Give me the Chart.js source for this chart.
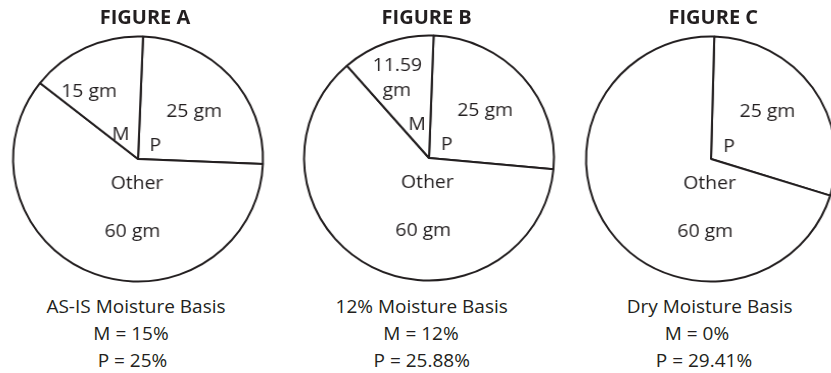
<!DOCTYPE html>
<html>
<head>
<meta charset="utf-8">
<title>Moisture basis pies</title>
<script src="https://cdn.jsdelivr.net/npm/chart.js@4"></script>
<style>
    html, body { margin: 0; padding: 0; background: #fff; }
    body {
        position: relative;
        width: 831px;
        height: 373px;
        overflow: hidden;
        font-family: "Open Sans", sans-serif;
        color: #231f20;
    }
    .pie { position: absolute; width: 260px; height: 260px; transform: scaleX(1.02); }
    .title { position: absolute; width: 200px; text-align: center; font-weight: bold; font-size: 20px; line-height: 27px; }
    .caption { position: absolute; width: 240px; text-align: center; font-size: 19px; line-height: 27px; white-space: nowrap; }
</style>
</head>
<body>
<script>
// Sample composition in grams, one entry per figure
const figureNames = ['FIGURE A', 'FIGURE B', 'FIGURE C'];
const basisNames = ['AS-IS Moisture Basis', '12% Moisture Basis', 'Dry Moisture Basis'];
const sliceNames = ['P', 'Other', 'M'];
const proteinGm = [25, 25, 25];
const otherGm = [60, 60, 60];
const moistureGm = [15, 11.59, 0];

// Layout
const pieCenters = [[138.3, 159.3], [428.5, 158.3], [710.7, 158.6]];
const pieRadius = 122.5;
const startAngles = [2.3, 2.1, 1.5];
const titleCenters = [145, 426.7, 713.3];
const captionCenters = [[136, 131, 132.5], [421.7, 421, 421.7], [709.7, 697, 704]];
const captionTop = 293.4;

// text offsets from the pie centre (x = text centre, y = baseline)
const labelSpots = [
    {
        P: { name: [17, -8.5], value: [[55, -42.5]] },
        Other: { name: [-1, 30], value: [[-5.5, 77.5]] },
        M: { name: [-17, -19.5], value: [[-48, -62]] }
    },
    {
        P: { name: [17.4, -7.6], value: [[55, -41.6]] },
        Other: { name: [-1.6, 30], value: [[-5.6, 78.4]] },
        M: { name: [-11.6, -28.3], value: [[-31, -86.6], [-31.5, -61.6]] }
    },
    {
        P: { name: [17.6, -7.5], value: [[55.3, -42]] },
        Other: { name: [-1.4, 29.5], value: [[-5.7, 78]] }
    }
];

const ink = '#231f20';

// writes slice names and gram values inside the pie
const sliceText = {
    id: 'sliceText',
    afterDatasetsDraw(chart, args, opts) {
        const arc = chart.getDatasetMeta(0).data[0];
        if (!arc) return;
        const ctx = chart.ctx;
        ctx.save();
        ctx.fillStyle = ink;
        ctx.font = '19px "Open Sans"';
        ctx.textAlign = 'center';
        ctx.textBaseline = 'alphabetic';
        chart.data.labels.forEach((name, i) => {
            const spot = opts.spots[name];
            if (!spot) return;
            const text = chart.data.datasets[0].data[i] + ' gm';
            const lines = spot.value.length > 1 ? text.split(' ') : [text];
            ctx.fillText(name, arc.x + spot.name[0], arc.y + spot.name[1]);
            spot.value.forEach((pos, k) => {
                ctx.fillText(lines[k], arc.x + pos[0], arc.y + pos[1]);
            });
        });
        ctx.restore();
    }
};

const pct = (part, total) => +(part / total * 100).toFixed(2) + '%';

document.addEventListener('DOMContentLoaded', function() {
    figureNames.forEach((fig, i) => {
        const allValues = [proteinGm[i], otherGm[i], moistureGm[i]];
        const total = allValues.reduce((a, b) => a + b, 0);
        const names = sliceNames.filter((n, k) => allValues[k] > 0);
        const values = allValues.filter(v => v > 0);

        const [cx, cy] = pieCenters[i];
        const wrap = document.createElement('div');
        wrap.className = 'pie';
        wrap.style.left = (cx - 130) + 'px';
        wrap.style.top = (cy - 130) + 'px';
        const canvas = document.createElement('canvas');
        wrap.appendChild(canvas);
        document.body.appendChild(wrap);

        const title = document.createElement('div');
        title.className = 'title';
        title.textContent = fig;
        title.style.left = (titleCenters[i] - 100) + 'px';
        title.style.top = '2.7px';
        document.body.appendChild(title);

        const captionLines = [
            basisNames[i],
            'M = ' + pct(moistureGm[i], total),
            'P = ' + pct(proteinGm[i], total)
        ];
        captionLines.forEach((line, k) => {
            const cap = document.createElement('div');
            cap.className = 'caption';
            cap.textContent = line;
            cap.style.left = (captionCenters[i][k] - 120) + 'px';
            cap.style.top = (captionTop + k * 27) + 'px';
            document.body.appendChild(cap);
        });

        new Chart(canvas, {
            type: 'pie',
            data: {
                labels: names,
                datasets: [{
                    data: values,
                    backgroundColor: '#ffffff',
                    borderColor: ink,
                    borderWidth: 2,
                    radius: pieRadius
                }]
            },
            options: {
                responsive: true,
                maintainAspectRatio: false,
                animation: false,
                events: [],
                rotation: startAngles[i],
                layout: { padding: 0 },
                plugins: {
                    legend: { display: false },
                    tooltip: { enabled: false },
                    sliceText: { spots: labelSpots[i] }
                }
            },
            plugins: [sliceText]
        });
    });
});
</script>
</body>
</html>
